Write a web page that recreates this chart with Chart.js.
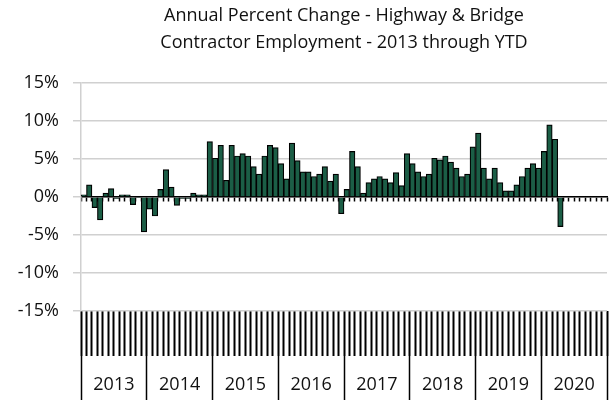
<!DOCTYPE html>
<html>
<head>
<meta charset="utf-8">
<script src="https://cdn.jsdelivr.net/npm/chart.js@4/dist/chart.umd.min.js"></script>
<style>
  html, body { margin: 0; padding: 0; background: #fff; }
  #wrap { width: 611px; height: 403px; }
</style>
</head>
<body>
<div id="wrap"><canvas id="chart"></canvas></div>
<script>
// years shown on the bottom axis
const years = ['2013', '2014', '2015', '2016', '2017', '2018', '2019', '2020'];
const months = ['Jan', 'Feb', 'Mar', 'Apr', 'May', 'Jun', 'Jul', 'Aug', 'Sep', 'Oct', 'Nov', 'Dec'];

// annual % change, one value per month (data ends Apr 2020)
const pct2013 = [0.3, 1.6, -1.4, -3.0, 0.5, 1.1, -0.2, 0.3, 0.3, -1.0, -0.1, -4.6];
const pct2014 = [-1.6, -2.5, 1.0, 3.6, 1.3, -1.1, -0.2, -0.2, 0.5, 0.3, 0.3, 7.3];
const pct2015 = [5.1, 6.8, 2.2, 6.8, 5.4, 5.7, 5.4, 4.0, 3.0, 5.4, 6.8, 6.5];
const pct2016 = [4.4, 2.4, 7.1, 4.8, 3.3, 3.3, 2.7, 3.0, 4.0, 2.1, 3.0, -2.2];
const pct2017 = [1.0, 6.0, 4.0, 0.5, 1.9, 2.4, 2.7, 2.4, 1.9, 3.2, 1.5, 5.7];
const pct2018 = [4.4, 3.3, 2.7, 3.0, 5.1, 4.9, 5.4, 4.6, 3.8, 2.7, 3.0, 6.6];
const pct2019 = [8.4, 3.8, 2.4, 3.8, 1.9, 0.8, 0.8, 1.6, 2.7, 3.8, 4.4, 3.8];
const pct2020 = [6.0, 9.5, 7.6, -3.9, null, null, null, null, null, null, null, null];

const yTicks = [-15, -10, -5, 0, 5, 10, 15];

// month categories
const labels = [];
years.forEach(function (y) {
  months.forEach(function (m) { labels.push(m + ' ' + y); });
});
const values = [].concat(pct2013, pct2014, pct2015, pct2016, pct2017, pct2018, pct2019, pct2020);

const font = 'Open Sans';
const gridGrey = '#d0d0d0';

new Chart(document.getElementById('chart'), {
  type: 'bar',
  data: {
    labels: labels,
    datasets: [{
      data: values,
      backgroundColor: '#1b5e46',
      borderColor: '#000',
      borderWidth: 1.2,
      barPercentage: 1,
      categoryPercentage: 1
    }]
  },
  options: {
    responsive: true,
    maintainAspectRatio: false,
    animation: false,
    layout: { padding: { top: 0, right: 4, bottom: 0, left: 0 } },
    plugins: {
      legend: { display: false },
      tooltip: { enabled: false },
      title: {
        display: true,
        fullSize: false,
        text: ['Annual Percent Change - Highway & Bridge', 'Contractor Employment - 2013 through YTD'],
        color: '#111',
        font: { family: font, size: 18, weight: 'normal', lineHeight: 1.5 },
        padding: { top: 2, bottom: 27 }
      }
    },
    scales: {
      // category axis drawn across the 0% line
      x: {
        type: 'category',
        position: { y: 0 },
        offset: true,
        ticks: { display: false },
        grid: { display: true, drawOnChartArea: false, drawTicks: true, tickLength: 4, tickWidth: 1.5, color: '#000', offset: true },
        border: { display: true, color: '#000', width: 1.5 }
      },
      // month tick marks under the plot
      x2: {
        type: 'category',
        position: 'bottom',
        offset: true,
        ticks: { display: false },
        grid: { display: true, drawOnChartArea: false, drawTicks: true, tickLength: 45, tickWidth: 2, color: '#000', offset: true },
        border: { display: false },
        afterFit: function (s) { s.height = 45; }
      },
      // year labels
      x3: {
        type: 'category',
        position: 'bottom',
        labels: years,
        offset: true,
        ticks: { color: '#111', font: { family: font, size: 18 }, padding: -26, maxRotation: 0, autoSkip: false },
        grid: { display: true, drawOnChartArea: false, drawTicks: true, tickLength: 44, tickWidth: 1.5, color: '#000', offset: true },
        border: { display: false },
        afterFit: function (s) { s.height = 47; }
      },
      y: {
        min: yTicks[0],
        max: yTicks[yTicks.length - 1],
        afterBuildTicks: function (s) { s.ticks = yTicks.map(function (v) { return { value: v }; }); },
        ticks: {
          color: '#111',
          font: { family: font, size: 18 },
          padding: 14,
          callback: function (v) { return v + '%'; }
        },
        grid: { color: gridGrey, lineWidth: 1.5, tickLength: 8 },
        border: { display: true, color: gridGrey, width: 1.5 },
        afterFit: function (s) { s.width = 81; }
      }
    }
  }
});
</script>
</body>
</html>
